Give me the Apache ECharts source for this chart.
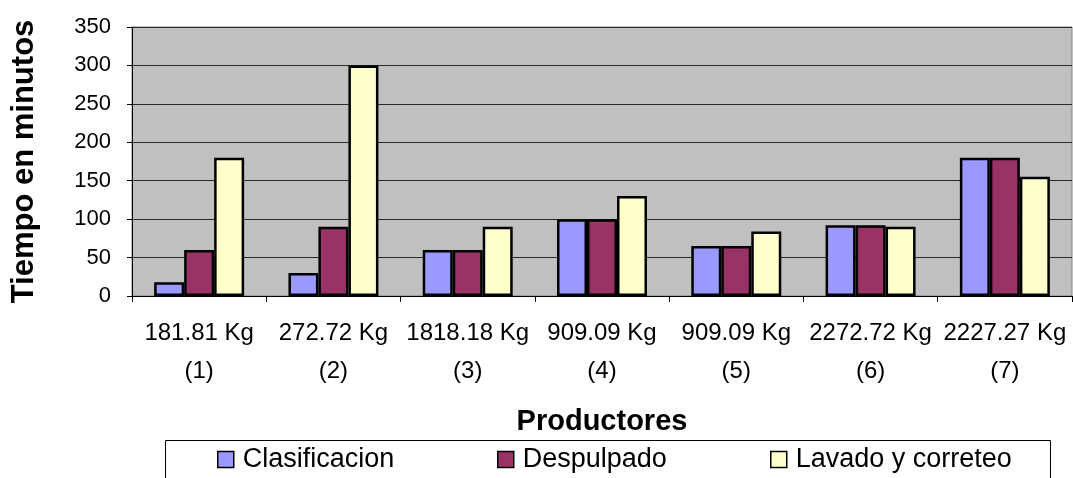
<!DOCTYPE html>
<html>
<head>
<meta charset="utf-8">
<style>
  html, body { margin: 0; padding: 0; background: #ffffff; }
  #chart { width: 1073px; height: 478px; }
</style>
<script src="https://cdn.jsdelivr.net/npm/echarts@6/dist/echarts.min.js"></script>
</head>
<body>
<div id="chart"></div>
<script>
// Producers (batch weight and producer number)
const categories = [
  '181.81 Kg\n(1)', '272.72 Kg\n(2)', '1818.18 Kg\n(3)', '909.09 Kg\n(4)',
  '909.09 Kg\n(5)', '2272.72 Kg\n(6)', '2227.27 Kg\n(7)'
];
// Minutes spent on each processing stage
const clasificacion = [18, 30, 60, 100, 65, 92, 180];
const despulpado    = [60, 90, 60, 100, 65, 92, 180];
const lavado        = [180, 300, 90, 130, 84, 90, 155];

const seriesNames = ['Clasificacion', 'Despulpado', 'Lavado y correteo'];
const seriesColors = ['#9999FF', '#993366', '#FFFFCC'];
const seriesValues = [clasificacion, despulpado, lavado];

const yMin = 0, yMax = 350, yStep = 50;

const FONT = "'Liberation Sans', Arial, sans-serif";
const chart = echarts.init(document.getElementById('chart'), null, { renderer: 'canvas' });

const legendLefts = [217, 497, 770];

chart.setOption({
  animation: false,
  backgroundColor: '#ffffff',
  textStyle: { fontFamily: FONT, color: '#000' },
  grid: {
    left: 132, top: 27, right: 1, bottom: 182,
    show: true, backgroundColor: '#C0C0C0',
    borderColor: '#808080', borderWidth: 1,
    containLabel: false
  },
  graphic: [{
    type: 'rect', z: 0,
    shape: { x: 165.5, y: 440.5, width: 885, height: 60 },
    style: { fill: '#ffffff', stroke: '#000000', lineWidth: 1 }
  }],
  legend: seriesNames.map((n, i) => ({
    data: [n],
    left: legendLefts[i], top: 446,
    padding: 0,
    icon: 'rect', itemWidth: 16, itemHeight: 16,
    itemStyle: { borderColor: '#000', borderWidth: 1.5 },
    textStyle: { fontFamily: FONT, fontSize: 27, color: '#000', padding: [0, 0, 0, 4] },
    selectedMode: false, z: 5
  })),
  xAxis: {
    type: 'category',
    data: categories,
    boundaryGap: true,
    name: 'Productores',
    nameLocation: 'middle',
    nameGap: 111,
    nameTextStyle: { fontFamily: FONT, fontSize: 29, fontWeight: 'bold', color: '#000' },
    axisLine: { show: true, lineStyle: { color: '#000', width: 1 } },
    axisTick: { show: true, length: 6, lineStyle: { color: '#000' }, interval: 0 },
    axisLabel: {
      interval: 0, margin: 18,
      fontFamily: FONT, fontSize: 24, lineHeight: 38, color: '#000'
    },
    splitLine: { show: false }
  },
  yAxis: {
    type: 'value',
    min: yMin, max: yMax, interval: yStep,
    name: 'Tiempo en minutos',
    nameLocation: 'middle',
    nameGap: 92,
    nameTextStyle: { fontFamily: FONT, fontSize: 31, fontWeight: 'bold', color: '#000' },
    axisLine: { show: true, lineStyle: { color: '#000', width: 1 } },
    axisTick: { show: true, length: 5, lineStyle: { color: '#000' } },
    axisLabel: { margin: 21, fontFamily: FONT, fontSize: 22, color: '#000' },
    splitLine: { show: true, lineStyle: { color: '#2a2a2a', width: 1 } }
  },
  series: seriesNames.map((n, i) => ({
    name: n,
    type: 'bar',
    data: seriesValues[i],
    barGap: '0%',
    barCategoryGap: '33%',
    itemStyle: { color: seriesColors[i], borderColor: '#000', borderWidth: 2.5 },
    emphasis: { disabled: true }
  }))
});
</script>
</body>
</html>
